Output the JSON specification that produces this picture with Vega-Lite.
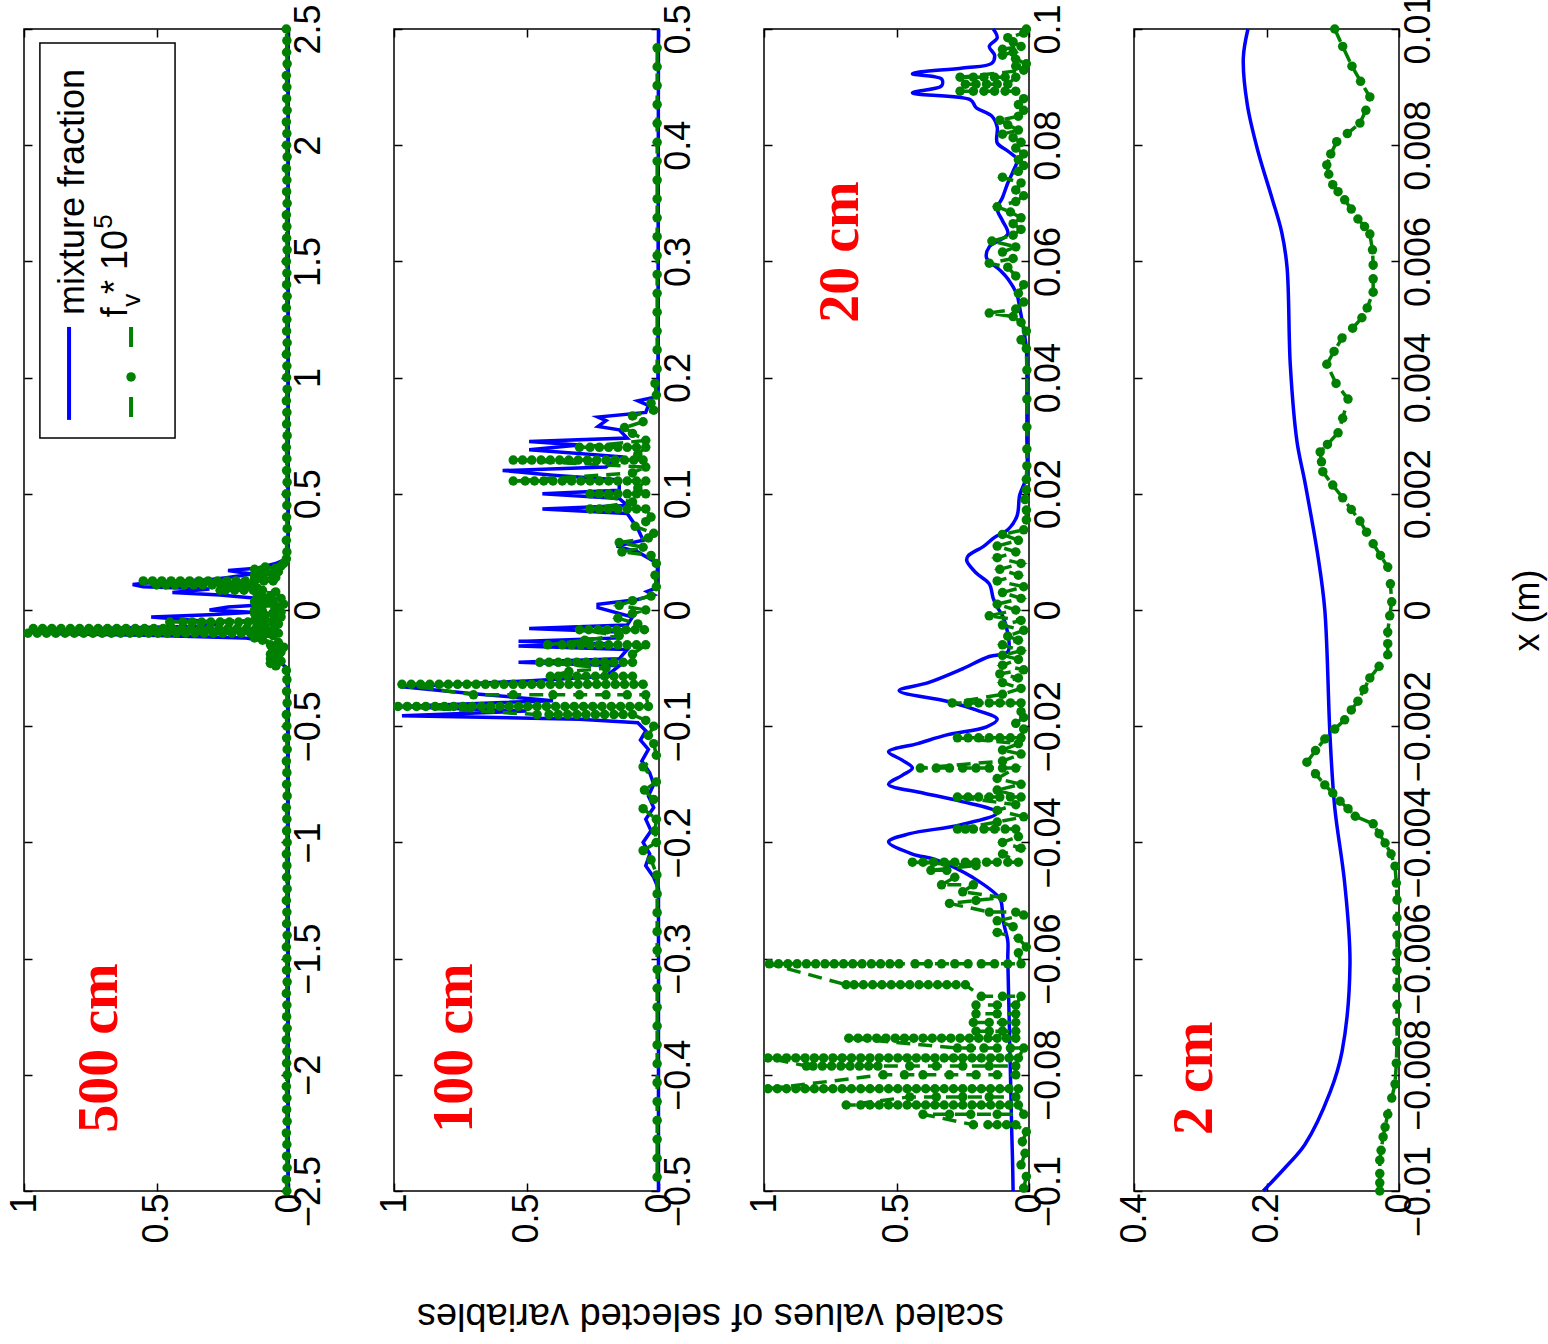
{
"$schema": "https://vega.github.io/schema/vega-lite/v6.json",
"background": "white",
"autosize": {"type": "none"},
"padding": {"left": 24, "top": 29, "right": 1524, "bottom": 1315},
"bounds": "flush",
"spacing": 105,
"title": {"text": "scaled values of selected variables", "orient": "bottom", "angle": 180, "anchor": "middle", "baseline": "bottom", "fontSize": 38, "font": "Liberation Sans", "fontWeight": "normal", "color": "#000000", "offset": 52, "dx": 65},
"config": {
  "view": {"stroke": "#000000", "strokeWidth": 1.5},
  "axis": {"domain": false, "grid": false, "labelFont": "Liberation Sans", "labelFontSize": 36, "labelColor": "#000000", "tickColor": "#000000", "tickWidth": 1.5, "tickSize": -8, "labelPadding": 10, "labelOverlap": false, "labelFlush": false, "labelBound": false, "minExtent": 0, "titleFont": "Liberation Sans", "titleFontSize": 36, "titleFontWeight": "normal", "titleColor": "#000000"}
},
"datasets": {
"p1m": [{"x":-2.5,"v":0.004},{"x":-0.3,"v":0.005},{"x":-0.25,"v":0.006},{"x":-0.23,"v":0.03},{"x":-0.21,"v":0.055},{"x":-0.19,"v":0.05},{"x":-0.17,"v":0.07},{"x":-0.15,"v":0.06},{"x":-0.13,"v":0.1},{"x":-0.12,"v":0.17},{"x":-0.11,"v":0.5},{"x":-0.1,"v":0.96},{"x":-0.09,"v":0.98},{"x":-0.08,"v":0.7},{"x":-0.07,"v":0.35},{"x":-0.06,"v":0.25},{"x":-0.045,"v":0.35},{"x":-0.03,"v":0.52},{"x":-0.02,"v":0.3},{"x":-0.01,"v":0.14},{"x":0,"v":0.3},{"x":0.013,"v":0.23},{"x":0.025,"v":0.05},{"x":0.05,"v":0.12},{"x":0.065,"v":0.26},{"x":0.075,"v":0.44},{"x":0.09,"v":0.3},{"x":0.1,"v":0.55},{"x":0.11,"v":0.59},{"x":0.12,"v":0.5},{"x":0.13,"v":0.3},{"x":0.14,"v":0.23},{"x":0.155,"v":0.14},{"x":0.17,"v":0.23},{"x":0.18,"v":0.12},{"x":0.2,"v":0.05},{"x":0.22,"v":0.01},{"x":0.25,"v":0.004},{"x":2.5,"v":0.004}],
"p1f": [{"x":-2.5,"v":0.008},{"x":-2.45,"v":0.01},{"x":-2.4,"v":0.007},{"x":-2.35,"v":0.009},{"x":-2.3,"v":0.008},{"x":-2.25,"v":0.01},{"x":-2.2,"v":0.007},{"x":-2.15,"v":0.009},{"x":-2.1,"v":0.008},{"x":-2.05,"v":0.01},{"x":-2,"v":0.007},{"x":-1.95,"v":0.009},{"x":-1.9,"v":0.008},{"x":-1.85,"v":0.01},{"x":-1.8,"v":0.007},{"x":-1.75,"v":0.009},{"x":-1.7,"v":0.008},{"x":-1.65,"v":0.01},{"x":-1.6,"v":0.007},{"x":-1.55,"v":0.009},{"x":-1.5,"v":0.008},{"x":-1.45,"v":0.01},{"x":-1.4,"v":0.007},{"x":-1.35,"v":0.009},{"x":-1.3,"v":0.008},{"x":-1.25,"v":0.01},{"x":-1.2,"v":0.007},{"x":-1.15,"v":0.009},{"x":-1.1,"v":0.008},{"x":-1.05,"v":0.01},{"x":-1,"v":0.007},{"x":-0.95,"v":0.009},{"x":-0.9,"v":0.008},{"x":-0.85,"v":0.01},{"x":-0.8,"v":0.007},{"x":-0.75,"v":0.009},{"x":-0.7,"v":0.008},{"x":-0.65,"v":0.01},{"x":-0.6,"v":0.007},{"x":-0.55,"v":0.009},{"x":-0.5,"v":0.008},{"x":-0.45,"v":0.01},{"x":-0.4,"v":0.007},{"x":-0.35,"v":0.009},{"x":-0.3,"v":0.008},
{"x":-0.26,"v":0.01},{"x":-0.24,"v":0.05},{"x":-0.23,"v":0.07},{"x":-0.22,"v":0.03},{"x":-0.21,"v":0.07},{"x":-0.2,"v":0.04},{"x":-0.19,"v":0.07},{"x":-0.18,"v":0.03},{"x":-0.17,"v":0.06},{"x":-0.16,"v":0.02},{"x":-0.15,"v":0.07},{"x":-0.14,"v":0.04},{"x":-0.13,"v":0.1},{"x":-0.12,"v":0.13},{"x":-0.11,"v":0.06},
{"x":-0.1,"v":0.04},{"x":-0.1,"v":0.075},{"x":-0.1,"v":0.11},{"x":-0.1,"v":0.145},{"x":-0.1,"v":0.18},{"x":-0.1,"v":0.215},{"x":-0.1,"v":0.25},{"x":-0.1,"v":0.285},{"x":-0.1,"v":0.32},{"x":-0.1,"v":0.355},{"x":-0.1,"v":0.39},{"x":-0.1,"v":0.425},{"x":-0.1,"v":0.46},{"x":-0.1,"v":0.495},{"x":-0.1,"v":0.53},{"x":-0.1,"v":0.565},{"x":-0.1,"v":0.6},{"x":-0.1,"v":0.635},{"x":-0.1,"v":0.67},{"x":-0.1,"v":0.705},{"x":-0.1,"v":0.74},{"x":-0.1,"v":0.775},{"x":-0.1,"v":0.81},{"x":-0.1,"v":0.845},{"x":-0.1,"v":0.88},{"x":-0.1,"v":0.915},{"x":-0.1,"v":0.95},{"x":-0.1,"v":0.985},
{"x":-0.08,"v":0.965},{"x":-0.08,"v":0.93},{"x":-0.08,"v":0.895},{"x":-0.08,"v":0.86},{"x":-0.08,"v":0.825},{"x":-0.08,"v":0.79},{"x":-0.08,"v":0.755},{"x":-0.08,"v":0.72},{"x":-0.08,"v":0.685},{"x":-0.08,"v":0.65},{"x":-0.08,"v":0.615},{"x":-0.08,"v":0.58},{"x":-0.08,"v":0.545},{"x":-0.08,"v":0.51},{"x":-0.08,"v":0.475},{"x":-0.08,"v":0.44},{"x":-0.08,"v":0.405},{"x":-0.08,"v":0.37},{"x":-0.08,"v":0.335},{"x":-0.08,"v":0.3},{"x":-0.08,"v":0.265},{"x":-0.08,"v":0.23},{"x":-0.08,"v":0.195},{"x":-0.08,"v":0.16},{"x":-0.08,"v":0.125},{"x":-0.08,"v":0.09},{"x":-0.08,"v":0.055},
{"x":-0.066,"v":0.1},{"x":-0.06,"v":0.04},
{"x":-0.052,"v":0.05},{"x":-0.052,"v":0.085},{"x":-0.052,"v":0.12},{"x":-0.052,"v":0.155},{"x":-0.052,"v":0.19},{"x":-0.052,"v":0.225},{"x":-0.052,"v":0.26},{"x":-0.052,"v":0.295},{"x":-0.052,"v":0.33},{"x":-0.052,"v":0.365},{"x":-0.052,"v":0.4},{"x":-0.052,"v":0.45},
{"x":-0.045,"v":0.13},{"x":-0.04,"v":0.05},{"x":-0.035,"v":0.12},{"x":-0.03,"v":0.03},{"x":-0.025,"v":0.11},{"x":-0.02,"v":0.06},{"x":-0.015,"v":0.13},{"x":-0.01,"v":0.03},{"x":-0.005,"v":0.1},{"x":0,"v":0.13},{"x":0.005,"v":0.04},{"x":0.01,"v":0.12},{"x":0.015,"v":0.05},{"x":0.02,"v":0.1},{"x":0.025,"v":0.02},{"x":0.03,"v":0.09},{"x":0.035,"v":0.13},{"x":0.04,"v":0.06},{"x":0.045,"v":0.1},{"x":0.05,"v":0.03},{"x":0.055,"v":0.12},{"x":0.06,"v":0.07},{"x":0.07,"v":0.12},{"x":0.078,"v":0.05},
{"x":0.085,"v":0.1},{"x":0.085,"v":0.135},{"x":0.085,"v":0.17},{"x":0.085,"v":0.205},{"x":0.085,"v":0.24},{"x":0.085,"v":0.26},{"x":0.095,"v":0.12},
{"x":0.108,"v":0.15},{"x":0.108,"v":0.185},{"x":0.108,"v":0.22},{"x":0.108,"v":0.255},{"x":0.108,"v":0.29},{"x":0.108,"v":0.325},{"x":0.108,"v":0.36},{"x":0.108,"v":0.395},{"x":0.108,"v":0.43},{"x":0.108,"v":0.465},{"x":0.108,"v":0.5},
{"x":0.125,"v":0.55},{"x":0.125,"v":0.515},{"x":0.125,"v":0.48},{"x":0.125,"v":0.445},{"x":0.125,"v":0.41},{"x":0.125,"v":0.375},{"x":0.125,"v":0.34},{"x":0.125,"v":0.305},{"x":0.125,"v":0.27},{"x":0.125,"v":0.235},{"x":0.125,"v":0.2},{"x":0.125,"v":0.165},{"x":0.125,"v":0.13},{"x":0.125,"v":0.095},{"x":0.125,"v":0.06},
{"x":0.135,"v":0.13},{"x":0.14,"v":0.05},{"x":0.145,"v":0.1},{"x":0.15,"v":0.13},{"x":0.155,"v":0.06},{"x":0.16,"v":0.12},{"x":0.165,"v":0.04},{"x":0.17,"v":0.11},{"x":0.175,"v":0.13},{"x":0.18,"v":0.05},{"x":0.185,"v":0.09},{"x":0.19,"v":0.03},{"x":0.2,"v":0.02},{"x":0.22,"v":0.01},
{"x":0.25,"v":0.008},{"x":0.3,"v":0.01},{"x":0.35,"v":0.007},{"x":0.4,"v":0.009},{"x":0.45,"v":0.008},{"x":0.5,"v":0.01},{"x":0.55,"v":0.007},{"x":0.6,"v":0.009},{"x":0.65,"v":0.008},{"x":0.7,"v":0.01},{"x":0.75,"v":0.007},{"x":0.8,"v":0.009},{"x":0.85,"v":0.008},{"x":0.9,"v":0.01},{"x":0.95,"v":0.007},{"x":1,"v":0.009},{"x":1.05,"v":0.008},{"x":1.1,"v":0.01},{"x":1.15,"v":0.007},{"x":1.2,"v":0.009},{"x":1.25,"v":0.008},{"x":1.3,"v":0.01},{"x":1.35,"v":0.007},{"x":1.4,"v":0.009},{"x":1.45,"v":0.008},{"x":1.5,"v":0.01},{"x":1.55,"v":0.007},{"x":1.6,"v":0.009},{"x":1.65,"v":0.008},{"x":1.7,"v":0.01},{"x":1.75,"v":0.007},{"x":1.8,"v":0.009},{"x":1.85,"v":0.008},{"x":1.9,"v":0.01},{"x":1.95,"v":0.007},{"x":2,"v":0.009},{"x":2.05,"v":0.008},{"x":2.1,"v":0.01},{"x":2.15,"v":0.007},{"x":2.2,"v":0.009},{"x":2.25,"v":0.008},{"x":2.3,"v":0.01},{"x":2.35,"v":0.007},{"x":2.4,"v":0.009},{"x":2.45,"v":0.008},{"x":2.5,"v":0.01}],
"p2m": [{"x":-0.5,"v":0.002},{"x":-0.24,"v":0.002},{"x":-0.23,"v":0.02},{"x":-0.22,"v":0.05},{"x":-0.21,"v":0.035},{"x":-0.2,"v":0.06},{"x":-0.19,"v":0.03},{"x":-0.18,"v":0.05},{"x":-0.17,"v":0.02},{"x":-0.16,"v":0.04},{"x":-0.15,"v":0.02},{"x":-0.14,"v":0.035},{"x":-0.13,"v":0.065},{"x":-0.12,"v":0.04},{"x":-0.112,"v":0.07},{"x":-0.104,"v":0.05},{"x":-0.097,"v":0.08},{"x":-0.094,"v":0.3},{"x":-0.091,"v":0.97},{"x":-0.087,"v":0.5},{"x":-0.083,"v":0.98},{"x":-0.078,"v":0.4},{"x":-0.072,"v":0.7},{"x":-0.066,"v":0.97},{"x":-0.061,"v":0.5},{"x":-0.057,"v":0.2},{"x":-0.048,"v":0.15},{"x":-0.045,"v":0.53},{"x":-0.042,"v":0.15},{"x":-0.034,"v":0.12},{"x":-0.031,"v":0.53},{"x":-0.029,"v":0.2},{"x":-0.027,"v":0.53},{"x":-0.024,"v":0.15},{"x":-0.019,"v":0.15},{"x":-0.016,"v":0.49},{"x":-0.013,"v":0.12},{"x":-0.006,"v":0.1},{"x":0.002,"v":0.23},{"x":0.005,"v":0.23},{"x":0.009,"v":0.08},{"x":0.013,"v":0.02},{"x":0.016,"v":0.045},{"x":0.019,"v":0.01},{"x":0.04,"v":0.005},{"x":0.05,"v":0.08},{"x":0.055,"v":0.16},{"x":0.06,"v":0.06},{"x":0.07,"v":0.08},{"x":0.083,"v":0.12},{"x":0.087,"v":0.44},{"x":0.09,"v":0.12},{"x":0.096,"v":0.15},{"x":0.1,"v":0.44},{"x":0.103,"v":0.15},{"x":0.112,"v":0.15},{"x":0.116,"v":0.4},{"x":0.12,"v":0.59},{"x":0.123,"v":0.2},{"x":0.132,"v":0.15},{"x":0.138,"v":0.49},{"x":0.142,"v":0.3},{"x":0.145,"v":0.49},{"x":0.148,"v":0.12},{"x":0.155,"v":0.15},{"x":0.158,"v":0.23},{"x":0.163,"v":0.2},{"x":0.166,"v":0.23},{"x":0.17,"v":0.05},{"x":0.176,"v":0.04},{"x":0.18,"v":0.08},{"x":0.183,"v":0.02},{"x":0.19,"v":0.004},{"x":0.5,"v":0.002}],
"p2f": [{"x":-0.488,"v":0.007},{"x":-0.4718,"v":0.007},{"x":-0.4555,"v":0.007},{"x":-0.4393,"v":0.007},{"x":-0.423,"v":0.007},{"x":-0.4068,"v":0.007},{"x":-0.3905,"v":0.007},{"x":-0.3743,"v":0.007},{"x":-0.358,"v":0.007},{"x":-0.3418,"v":0.007},{"x":-0.3255,"v":0.007},{"x":-0.3093,"v":0.007},{"x":-0.293,"v":0.007},{"x":-0.2768,"v":0.007},{"x":-0.2605,"v":0.007},{"x":-0.2443,"v":0.007},
{"x":-0.228,"v":0.008},{"x":-0.215,"v":0.03},{"x":-0.207,"v":0.06},{"x":-0.2,"v":0.01},{"x":-0.19,"v":0.015},{"x":-0.18,"v":0.01},{"x":-0.171,"v":0.06},{"x":-0.163,"v":0.02},{"x":-0.155,"v":0.055},{"x":-0.148,"v":0.01},{"x":-0.135,"v":0.06},{"x":-0.125,"v":0.01},{"x":-0.115,"v":0.02},{"x":-0.108,"v":0.04},{"x":-0.1,"v":0.02},{"x":-0.095,"v":0.05},
{"x":-0.09,"v":0.1},{"x":-0.09,"v":0.135},{"x":-0.09,"v":0.17},{"x":-0.09,"v":0.205},{"x":-0.09,"v":0.24},{"x":-0.09,"v":0.275},{"x":-0.09,"v":0.31},{"x":-0.09,"v":0.345},{"x":-0.09,"v":0.38},{"x":-0.09,"v":0.415},{"x":-0.09,"v":0.46},
{"x":-0.083,"v":0.985},{"x":-0.083,"v":0.95},{"x":-0.083,"v":0.915},{"x":-0.083,"v":0.88},{"x":-0.083,"v":0.845},{"x":-0.083,"v":0.81},{"x":-0.083,"v":0.775},{"x":-0.083,"v":0.74},{"x":-0.083,"v":0.705},{"x":-0.083,"v":0.67},{"x":-0.083,"v":0.635},{"x":-0.083,"v":0.6},{"x":-0.083,"v":0.565},{"x":-0.083,"v":0.53},{"x":-0.083,"v":0.495},{"x":-0.083,"v":0.46},{"x":-0.083,"v":0.425},{"x":-0.083,"v":0.39},{"x":-0.083,"v":0.355},{"x":-0.083,"v":0.32},{"x":-0.083,"v":0.285},{"x":-0.083,"v":0.25},{"x":-0.083,"v":0.215},{"x":-0.083,"v":0.18},{"x":-0.083,"v":0.145},{"x":-0.083,"v":0.11},{"x":-0.083,"v":0.075},{"x":-0.083,"v":0.04},
{"x":-0.073,"v":0.05},{"x":-0.073,"v":0.12},{"x":-0.073,"v":0.2},{"x":-0.073,"v":0.3},{"x":-0.073,"v":0.4},{"x":-0.073,"v":0.55},{"x":-0.073,"v":0.7},
{"x":-0.064,"v":0.97},{"x":-0.064,"v":0.935},{"x":-0.064,"v":0.9},{"x":-0.064,"v":0.865},{"x":-0.064,"v":0.83},{"x":-0.064,"v":0.795},{"x":-0.064,"v":0.76},{"x":-0.064,"v":0.725},{"x":-0.064,"v":0.69},{"x":-0.064,"v":0.655},{"x":-0.064,"v":0.62},{"x":-0.064,"v":0.585},{"x":-0.064,"v":0.55},{"x":-0.064,"v":0.515},{"x":-0.064,"v":0.48},{"x":-0.064,"v":0.445},{"x":-0.064,"v":0.41},{"x":-0.064,"v":0.375},{"x":-0.064,"v":0.34},{"x":-0.064,"v":0.305},{"x":-0.064,"v":0.27},{"x":-0.064,"v":0.235},{"x":-0.064,"v":0.2},{"x":-0.064,"v":0.165},{"x":-0.064,"v":0.13},{"x":-0.064,"v":0.095},{"x":-0.064,"v":0.06},
{"x":-0.057,"v":0.1},{"x":-0.057,"v":0.135},{"x":-0.057,"v":0.17},{"x":-0.057,"v":0.205},{"x":-0.057,"v":0.24},{"x":-0.057,"v":0.275},{"x":-0.057,"v":0.31},{"x":-0.057,"v":0.345},{"x":-0.057,"v":0.38},{"x":-0.057,"v":0.41},{"x":-0.053,"v":0.34},{"x":-0.05,"v":0.2},
{"x":-0.045,"v":0.45},{"x":-0.045,"v":0.415},{"x":-0.045,"v":0.38},{"x":-0.045,"v":0.345},{"x":-0.045,"v":0.31},{"x":-0.045,"v":0.275},{"x":-0.045,"v":0.24},{"x":-0.045,"v":0.205},{"x":-0.045,"v":0.17},{"x":-0.045,"v":0.135},{"x":-0.045,"v":0.1},{"x":-0.038,"v":0.1},
{"x":-0.03,"v":0.05},{"x":-0.03,"v":0.085},{"x":-0.03,"v":0.12},{"x":-0.03,"v":0.155},{"x":-0.03,"v":0.19},{"x":-0.03,"v":0.225},{"x":-0.03,"v":0.26},{"x":-0.03,"v":0.295},{"x":-0.03,"v":0.33},{"x":-0.03,"v":0.365},{"x":-0.03,"v":0.42},{"x":-0.026,"v":0.28},{"x":-0.022,"v":0.15},
{"x":-0.017,"v":0.3},{"x":-0.017,"v":0.265},{"x":-0.017,"v":0.23},{"x":-0.017,"v":0.195},{"x":-0.017,"v":0.16},{"x":-0.017,"v":0.125},{"x":-0.017,"v":0.09},{"x":-0.017,"v":0.055},
{"x":-0.012,"v":0.08},{"x":-0.007,"v":0.155},{"x":-0.003,"v":0.1},{"x":0,"v":0.05},{"x":0.004,"v":0.15},{"x":0.008,"v":0.1},{"x":0.012,"v":0.03},{"x":0.02,"v":0.01},{"x":0.03,"v":0.015},{"x":0.04,"v":0.01},{"x":0.047,"v":0.03},{"x":0.05,"v":0.14},{"x":0.054,"v":0.06},{"x":0.058,"v":0.15},{"x":0.062,"v":0.04},{"x":0.066,"v":0.02},{"x":0.072,"v":0.09},{"x":0.076,"v":0.05},{"x":0.08,"v":0.03},
{"x":0.087,"v":0.05},{"x":0.087,"v":0.085},{"x":0.087,"v":0.12},{"x":0.087,"v":0.155},{"x":0.087,"v":0.19},{"x":0.087,"v":0.225},{"x":0.087,"v":0.26},{"x":0.093,"v":0.1},
{"x":0.1,"v":0.26},{"x":0.1,"v":0.225},{"x":0.1,"v":0.19},{"x":0.1,"v":0.155},{"x":0.1,"v":0.12},{"x":0.1,"v":0.085},{"x":0.1,"v":0.05},{"x":0.105,"v":0.08},
{"x":0.111,"v":0.05},{"x":0.111,"v":0.085},{"x":0.111,"v":0.12},{"x":0.111,"v":0.155},{"x":0.111,"v":0.19},{"x":0.111,"v":0.225},{"x":0.111,"v":0.26},{"x":0.111,"v":0.295},{"x":0.111,"v":0.33},{"x":0.111,"v":0.365},{"x":0.111,"v":0.4},{"x":0.111,"v":0.435},{"x":0.111,"v":0.47},{"x":0.111,"v":0.505},{"x":0.111,"v":0.55},{"x":0.118,"v":0.1},{"x":0.123,"v":0.05},
{"x":0.129,"v":0.55},{"x":0.129,"v":0.515},{"x":0.129,"v":0.48},{"x":0.129,"v":0.445},{"x":0.129,"v":0.41},{"x":0.129,"v":0.375},{"x":0.129,"v":0.34},{"x":0.129,"v":0.305},{"x":0.129,"v":0.27},{"x":0.129,"v":0.235},{"x":0.129,"v":0.2},{"x":0.129,"v":0.165},{"x":0.129,"v":0.13},{"x":0.129,"v":0.095},{"x":0.129,"v":0.06},{"x":0.134,"v":0.08},
{"x":0.14,"v":0.05},{"x":0.14,"v":0.085},{"x":0.14,"v":0.12},{"x":0.14,"v":0.155},{"x":0.14,"v":0.19},{"x":0.14,"v":0.225},{"x":0.14,"v":0.26},{"x":0.14,"v":0.3},
{"x":0.146,"v":0.05},{"x":0.152,"v":0.1},{"x":0.157,"v":0.13},{"x":0.162,"v":0.06},{"x":0.167,"v":0.1},{"x":0.172,"v":0.02},{"x":0.178,"v":0.03},{"x":0.185,"v":0.01},{"x":0.195,"v":0.015},
{"x":0.2075,"v":0.007},{"x":0.2238,"v":0.007},{"x":0.24,"v":0.007},{"x":0.2563,"v":0.007},{"x":0.2725,"v":0.007},{"x":0.2888,"v":0.007},{"x":0.305,"v":0.007},{"x":0.3213,"v":0.007},{"x":0.3375,"v":0.007},{"x":0.3538,"v":0.007},{"x":0.37,"v":0.007},{"x":0.3863,"v":0.007},{"x":0.4025,"v":0.007},{"x":0.4188,"v":0.007},{"x":0.435,"v":0.007},{"x":0.4513,"v":0.007},{"x":0.4675,"v":0.007},{"x":0.4838,"v":0.007}],
"p3m": [{"x":-0.1,"v":0.06},{"x":-0.095,"v":0.062},{"x":-0.09,"v":0.065},{"x":-0.08,"v":0.07},{"x":-0.07,"v":0.075},{"x":-0.06,"v":0.08},{"x":-0.057,"v":0.08},{"x":-0.054,"v":0.095},{"x":-0.052,"v":0.1},{"x":-0.0497,"v":0.11},{"x":-0.0461,"v":0.21},{"x":-0.043,"v":0.35},{"x":-0.042,"v":0.44},{"x":-0.0399,"v":0.53},{"x":-0.0385,"v":0.45},{"x":-0.037,"v":0.26},{"x":-0.0349,"v":0.12},{"x":-0.0329,"v":0.26},{"x":-0.0315,"v":0.4},{"x":-0.03,"v":0.53},{"x":-0.0285,"v":0.48},{"x":-0.0272,"v":0.44},{"x":-0.0258,"v":0.48},{"x":-0.0244,"v":0.53},{"x":-0.023,"v":0.42},{"x":-0.0215,"v":0.31},{"x":-0.0201,"v":0.16},{"x":-0.0188,"v":0.12},{"x":-0.0172,"v":0.2},{"x":-0.0157,"v":0.31},{"x":-0.0139,"v":0.49},{"x":-0.0125,"v":0.38},{"x":-0.0103,"v":0.26},{"x":-0.008,"v":0.15},{"x":-0.0072,"v":0.08},{"x":-0.004,"v":0.08},{"x":-0.001,"v":0.1},{"x":0.0005,"v":0.12},{"x":0.002,"v":0.135},{"x":0.0045,"v":0.15},{"x":0.0064,"v":0.2},{"x":0.0085,"v":0.235},{"x":0.0093,"v":0.23},{"x":0.011,"v":0.17},{"x":0.0125,"v":0.13},{"x":0.0138,"v":0.08},{"x":0.0162,"v":0.045},{"x":0.0198,"v":0.035},{"x":0.0229,"v":0.01},{"x":0.03,"v":0.008},{"x":0.0361,"v":0.008},{"x":0.045,"v":0.01},{"x":0.0482,"v":0.02},{"x":0.052,"v":0.035},{"x":0.0542,"v":0.045},{"x":0.057,"v":0.08},{"x":0.0585,"v":0.11},{"x":0.0606,"v":0.16},{"x":0.0625,"v":0.15},{"x":0.0647,"v":0.08},{"x":0.067,"v":0.1},{"x":0.069,"v":0.12},{"x":0.071,"v":0.1},{"x":0.0735,"v":0.08},{"x":0.0755,"v":0.06},{"x":0.0775,"v":0.045},{"x":0.079,"v":0.08},{"x":0.0804,"v":0.12},{"x":0.0831,"v":0.12},{"x":0.085,"v":0.14},{"x":0.0865,"v":0.2},{"x":0.0878,"v":0.22},{"x":0.089,"v":0.44},{"x":0.0902,"v":0.33},{"x":0.0914,"v":0.33},{"x":0.0923,"v":0.44},{"x":0.0933,"v":0.25},{"x":0.0941,"v":0.14},{"x":0.0955,"v":0.13},{"x":0.097,"v":0.15},{"x":0.0985,"v":0.12},{"x":0.1,"v":0.135}],
"p3f": [{"x":-0.0995,"v":0.02},{"x":-0.0975,"v":0.01},{"x":-0.0955,"v":0.03},{"x":-0.0935,"v":0.015},{"x":-0.0915,"v":0.025},{"x":-0.0898,"v":0.01},
{"x":-0.0886,"v":0.05},{"x":-0.0886,"v":0.085},{"x":-0.0886,"v":0.12},{"x":-0.0886,"v":0.155},{"x":-0.0886,"v":0.21},
{"x":-0.0868,"v":0.4},{"x":-0.0868,"v":0.3},{"x":-0.0868,"v":0.22},{"x":-0.0868,"v":0.12},{"x":-0.0868,"v":0.02},
{"x":-0.0852,"v":0.04},{"x":-0.0852,"v":0.075},{"x":-0.0852,"v":0.11},{"x":-0.0852,"v":0.145},{"x":-0.0852,"v":0.18},{"x":-0.0852,"v":0.215},{"x":-0.0852,"v":0.25},{"x":-0.0852,"v":0.285},{"x":-0.0852,"v":0.32},{"x":-0.0852,"v":0.355},{"x":-0.0852,"v":0.39},{"x":-0.0852,"v":0.425},{"x":-0.0852,"v":0.46},{"x":-0.0852,"v":0.495},{"x":-0.0852,"v":0.53},{"x":-0.0852,"v":0.565},{"x":-0.0852,"v":0.6},{"x":-0.0852,"v":0.635},{"x":-0.0852,"v":0.69},
{"x":-0.0838,"v":0.45},{"x":-0.0838,"v":0.35},{"x":-0.0838,"v":0.25},{"x":-0.0838,"v":0.15},{"x":-0.0838,"v":0.05},
{"x":-0.0824,"v":0.04},{"x":-0.0824,"v":0.075},{"x":-0.0824,"v":0.11},{"x":-0.0824,"v":0.145},{"x":-0.0824,"v":0.18},{"x":-0.0824,"v":0.215},{"x":-0.0824,"v":0.25},{"x":-0.0824,"v":0.285},{"x":-0.0824,"v":0.32},{"x":-0.0824,"v":0.355},{"x":-0.0824,"v":0.39},{"x":-0.0824,"v":0.425},{"x":-0.0824,"v":0.46},{"x":-0.0824,"v":0.495},{"x":-0.0824,"v":0.53},{"x":-0.0824,"v":0.565},{"x":-0.0824,"v":0.6},{"x":-0.0824,"v":0.635},{"x":-0.0824,"v":0.67},{"x":-0.0824,"v":0.705},{"x":-0.0824,"v":0.74},{"x":-0.0824,"v":0.775},{"x":-0.0824,"v":0.81},{"x":-0.0824,"v":0.845},{"x":-0.0824,"v":0.88},{"x":-0.0824,"v":0.915},{"x":-0.0824,"v":0.95},{"x":-0.0824,"v":0.985},
{"x":-0.08,"v":0.55},{"x":-0.08,"v":0.47},{"x":-0.08,"v":0.4},{"x":-0.08,"v":0.3},{"x":-0.08,"v":0.2},{"x":-0.08,"v":0.12},{"x":-0.08,"v":0.05},
{"x":-0.0785,"v":0.05},{"x":-0.0785,"v":0.15},{"x":-0.0785,"v":0.25},{"x":-0.0785,"v":0.35},{"x":-0.0785,"v":0.45},{"x":-0.0785,"v":0.57},{"x":-0.0785,"v":0.605},{"x":-0.0785,"v":0.64},{"x":-0.0785,"v":0.675},{"x":-0.0785,"v":0.71},{"x":-0.0785,"v":0.745},{"x":-0.0785,"v":0.78},{"x":-0.0785,"v":0.815},{"x":-0.0785,"v":0.84},
{"x":-0.0771,"v":0.985},{"x":-0.0771,"v":0.95},{"x":-0.0771,"v":0.915},{"x":-0.0771,"v":0.88},{"x":-0.0771,"v":0.845},{"x":-0.0771,"v":0.81},{"x":-0.0771,"v":0.775},{"x":-0.0771,"v":0.74},{"x":-0.0771,"v":0.705},{"x":-0.0771,"v":0.67},{"x":-0.0771,"v":0.635},{"x":-0.0771,"v":0.6},{"x":-0.0771,"v":0.565},{"x":-0.0771,"v":0.53},{"x":-0.0771,"v":0.495},{"x":-0.0771,"v":0.46},{"x":-0.0771,"v":0.425},{"x":-0.0771,"v":0.39},{"x":-0.0771,"v":0.355},{"x":-0.0771,"v":0.32},{"x":-0.0771,"v":0.285},{"x":-0.0771,"v":0.25},{"x":-0.0771,"v":0.215},{"x":-0.0771,"v":0.18},{"x":-0.0771,"v":0.145},{"x":-0.0771,"v":0.11},{"x":-0.0771,"v":0.075},{"x":-0.0771,"v":0.04},
{"x":-0.0754,"v":0.02},{"x":-0.0754,"v":0.07},{"x":-0.0754,"v":0.12},{"x":-0.0754,"v":0.17},{"x":-0.0754,"v":0.22},{"x":-0.0754,"v":0.27},
{"x":-0.0737,"v":0.68},{"x":-0.0737,"v":0.645},{"x":-0.0737,"v":0.61},{"x":-0.0737,"v":0.575},{"x":-0.0737,"v":0.54},{"x":-0.0737,"v":0.505},{"x":-0.0737,"v":0.47},{"x":-0.0737,"v":0.435},{"x":-0.0737,"v":0.4},{"x":-0.0737,"v":0.365},{"x":-0.0737,"v":0.33},{"x":-0.0737,"v":0.295},{"x":-0.0737,"v":0.26},{"x":-0.0737,"v":0.225},{"x":-0.0737,"v":0.19},{"x":-0.0737,"v":0.155},{"x":-0.0737,"v":0.12},{"x":-0.0737,"v":0.085},{"x":-0.0737,"v":0.05},
{"x":-0.0725,"v":0.05},{"x":-0.0725,"v":0.1},{"x":-0.0725,"v":0.15},{"x":-0.0725,"v":0.2},{"x":-0.071,"v":0.21},{"x":-0.071,"v":0.15},{"x":-0.071,"v":0.1},{"x":-0.071,"v":0.05},{"x":-0.0695,"v":0.05},{"x":-0.0695,"v":0.12},{"x":-0.0695,"v":0.2},{"x":-0.068,"v":0.2},{"x":-0.068,"v":0.12},{"x":-0.068,"v":0.05},{"x":-0.0665,"v":0.03},{"x":-0.0665,"v":0.1},{"x":-0.0665,"v":0.18},
{"x":-0.0645,"v":0.24},{"x":-0.0645,"v":0.275},{"x":-0.0645,"v":0.31},{"x":-0.0645,"v":0.345},{"x":-0.0645,"v":0.38},{"x":-0.0645,"v":0.415},{"x":-0.0645,"v":0.45},{"x":-0.0645,"v":0.485},{"x":-0.0645,"v":0.52},{"x":-0.0645,"v":0.555},{"x":-0.0645,"v":0.59},{"x":-0.0645,"v":0.625},{"x":-0.0645,"v":0.66},{"x":-0.0645,"v":0.69},
{"x":-0.0609,"v":0.98},{"x":-0.0609,"v":0.945},{"x":-0.0609,"v":0.91},{"x":-0.0609,"v":0.875},{"x":-0.0609,"v":0.84},{"x":-0.0609,"v":0.805},{"x":-0.0609,"v":0.77},{"x":-0.0609,"v":0.735},{"x":-0.0609,"v":0.7},{"x":-0.0609,"v":0.665},{"x":-0.0609,"v":0.63},{"x":-0.0609,"v":0.595},{"x":-0.0609,"v":0.56},{"x":-0.0609,"v":0.525},{"x":-0.0609,"v":0.49},{"x":-0.0609,"v":0.43},{"x":-0.0609,"v":0.38},{"x":-0.0609,"v":0.33},{"x":-0.0609,"v":0.28},{"x":-0.0609,"v":0.23},{"x":-0.0609,"v":0.18},{"x":-0.0609,"v":0.13},{"x":-0.0609,"v":0.08},{"x":-0.0609,"v":0.03},
{"x":-0.059,"v":0.04},{"x":-0.058,"v":0.01},{"x":-0.0565,"v":0.04},{"x":-0.0555,"v":0.12},{"x":-0.0545,"v":0.06},{"x":-0.0535,"v":0.12},{"x":-0.0525,"v":0.02},
{"x":-0.052,"v":0.05},{"x":-0.052,"v":0.15},{"x":-0.0505,"v":0.3},{"x":-0.05,"v":0.2},{"x":-0.0495,"v":0.1},{"x":-0.0485,"v":0.25},{"x":-0.0473,"v":0.21},{"x":-0.0473,"v":0.33},{"x":-0.046,"v":0.28},{"x":-0.0448,"v":0.31},{"x":-0.0448,"v":0.37},{"x":-0.044,"v":0.2},
{"x":-0.0434,"v":0.44},{"x":-0.0434,"v":0.4},{"x":-0.0434,"v":0.36},{"x":-0.0434,"v":0.32},{"x":-0.0434,"v":0.28},{"x":-0.0434,"v":0.24},{"x":-0.0434,"v":0.2},{"x":-0.0434,"v":0.16},{"x":-0.0434,"v":0.12},{"x":-0.0434,"v":0.08},{"x":-0.0434,"v":0.04},
{"x":-0.042,"v":0.1},{"x":-0.041,"v":0.03},{"x":-0.04,"v":0.1},{"x":-0.039,"v":0.04},
{"x":-0.0377,"v":0.05},{"x":-0.0377,"v":0.09},{"x":-0.0377,"v":0.13},{"x":-0.0377,"v":0.17},{"x":-0.0377,"v":0.21},{"x":-0.0377,"v":0.24},{"x":-0.0377,"v":0.27},
{"x":-0.0365,"v":0.12},{"x":-0.0356,"v":0.02},{"x":-0.0345,"v":0.12},{"x":-0.0335,"v":0.05},
{"x":-0.0322,"v":0.27},{"x":-0.0322,"v":0.23},{"x":-0.0322,"v":0.19},{"x":-0.0322,"v":0.15},{"x":-0.0322,"v":0.11},{"x":-0.0322,"v":0.07},{"x":-0.0322,"v":0.03},
{"x":-0.031,"v":0.12},{"x":-0.03,"v":0.03},{"x":-0.029,"v":0.12},
{"x":-0.0272,"v":0.05},{"x":-0.0272,"v":0.1},{"x":-0.0272,"v":0.15},{"x":-0.0272,"v":0.2},{"x":-0.0272,"v":0.25},{"x":-0.0272,"v":0.3},{"x":-0.0272,"v":0.35},{"x":-0.0272,"v":0.41},
{"x":-0.026,"v":0.1},{"x":-0.0248,"v":0.03},{"x":-0.0241,"v":0.1},{"x":-0.023,"v":0.04},
{"x":-0.022,"v":0.27},{"x":-0.022,"v":0.23},{"x":-0.022,"v":0.19},{"x":-0.022,"v":0.15},{"x":-0.022,"v":0.11},{"x":-0.022,"v":0.07},{"x":-0.022,"v":0.03},
{"x":-0.0205,"v":0.02},{"x":-0.0195,"v":0.05},{"x":-0.0185,"v":0.02},{"x":-0.0175,"v":0.03},
{"x":-0.016,"v":0.03},{"x":-0.016,"v":0.07},{"x":-0.016,"v":0.11},{"x":-0.016,"v":0.15},{"x":-0.016,"v":0.19},{"x":-0.016,"v":0.23},{"x":-0.016,"v":0.29},
{"x":-0.0145,"v":0.1},{"x":-0.0135,"v":0.03},{"x":-0.0125,"v":0.1},{"x":-0.0117,"v":0.04},{"x":-0.011,"v":0.11},{"x":-0.0103,"v":0.02},{"x":-0.0095,"v":0.1},{"x":-0.0085,"v":0.04},{"x":-0.0078,"v":0.1},{"x":-0.007,"v":0.03},{"x":-0.006,"v":0.1},{"x":-0.0052,"v":0.04},{"x":-0.0045,"v":0.08},{"x":-0.0035,"v":0.02},{"x":-0.0026,"v":0.1},{"x":-0.0018,"v":0.03},{"x":-0.001,"v":0.15},{"x":0,"v":0.05},{"x":0.001,"v":0.12},{"x":0.002,"v":0.03},{"x":0.003,"v":0.1},{"x":0.004,"v":0.02},{"x":0.005,"v":0.12},{"x":0.006,"v":0.04},{"x":0.007,"v":0.11},{"x":0.008,"v":0.03},{"x":0.009,"v":0.12},{"x":0.01,"v":0.05},{"x":0.011,"v":0.12},{"x":0.012,"v":0.04},{"x":0.013,"v":0.1},{"x":0.0138,"v":0.02},{"x":0.0155,"v":0.01},{"x":0.0172,"v":0.01},{"x":0.019,"v":0.015},{"x":0.0207,"v":0.01},{"x":0.0225,"v":0.01},
{"x":0.0248,"v":0.008},{"x":0.0277,"v":0.008},{"x":0.0315,"v":0.008},{"x":0.0363,"v":0.008},{"x":0.0413,"v":0.008},
{"x":0.045,"v":0.01},{"x":0.0465,"v":0.03},{"x":0.048,"v":0.01},{"x":0.0495,"v":0.03},{"x":0.0505,"v":0.06},{"x":0.0511,"v":0.15},{"x":0.0518,"v":0.05},{"x":0.053,"v":0.02},{"x":0.0545,"v":0.04},{"x":0.056,"v":0.02},{"x":0.0575,"v":0.05},{"x":0.059,"v":0.08},{"x":0.0597,"v":0.15},{"x":0.0605,"v":0.06},{"x":0.0616,"v":0.1},{"x":0.0625,"v":0.05},{"x":0.0635,"v":0.14},{"x":0.0645,"v":0.06},{"x":0.0655,"v":0.03},{"x":0.0665,"v":0.06},{"x":0.0675,"v":0.03},{"x":0.0685,"v":0.07},{"x":0.0694,"v":0.12},{"x":0.0703,"v":0.05},{"x":0.0713,"v":0.02},{"x":0.0723,"v":0.05},{"x":0.0735,"v":0.03},{"x":0.0745,"v":0.1},{"x":0.0755,"v":0.04},{"x":0.0765,"v":0.02},{"x":0.0775,"v":0.04},{"x":0.0785,"v":0.02},{"x":0.0795,"v":0.05},{"x":0.0805,"v":0.03},{"x":0.0813,"v":0.06},{"x":0.0819,"v":0.1},{"x":0.0826,"v":0.04},{"x":0.0835,"v":0.08},{"x":0.0843,"v":0.11},{"x":0.085,"v":0.04},{"x":0.086,"v":0.02},{"x":0.087,"v":0.04},{"x":0.088,"v":0.02},
{"x":0.0893,"v":0.05},{"x":0.0893,"v":0.09},{"x":0.0893,"v":0.13},{"x":0.0893,"v":0.17},{"x":0.0893,"v":0.21},{"x":0.0893,"v":0.26},{"x":0.0905,"v":0.24},{"x":0.0905,"v":0.2},{"x":0.0905,"v":0.16},{"x":0.0905,"v":0.12},{"x":0.0905,"v":0.08},{"x":0.0917,"v":0.05},{"x":0.0917,"v":0.09},{"x":0.0917,"v":0.13},{"x":0.0917,"v":0.17},{"x":0.0917,"v":0.21},{"x":0.0917,"v":0.26},
{"x":0.0929,"v":0.02},{"x":0.0936,"v":0.05},{"x":0.094,"v":0.01},{"x":0.0948,"v":0.05},{"x":0.0955,"v":0.1},{"x":0.096,"v":0.06},{"x":0.0965,"v":0.1},{"x":0.097,"v":0.03},{"x":0.0978,"v":0.06},{"x":0.0985,"v":0.08},{"x":0.0993,"v":0.02},{"x":0.1,"v":0.01}],
"p4m": [{"x":0.01,"v":0.228},{"x":0.0095,"v":0.235},{"x":0.0087,"v":0.229},{"x":0.0079,"v":0.213},{"x":0.0071,"v":0.192},{"x":0.0065,"v":0.177},{"x":0.0059,"v":0.169},{"x":0.0042,"v":0.164},{"x":0.0029,"v":0.154},{"x":0.0022,"v":0.142},{"x":0.0009,"v":0.122},{"x":0,"v":0.112},{"x":-0.0022,"v":0.104},{"x":-0.0034,"v":0.097},{"x":-0.0047,"v":0.082},{"x":-0.0061,"v":0.074},{"x":-0.0076,"v":0.086},{"x":-0.0083,"v":0.104},{"x":-0.0092,"v":0.142},{"x":-0.0096,"v":0.172},{"x":-0.01,"v":0.205}],
"p4f": [{"x":0.01,"v":0.097},{"x":0.0097,"v":0.085},{"x":0.00936,"v":0.071},{"x":0.0091,"v":0.058},{"x":0.00883,"v":0.044},{"x":0.0086,"v":0.05},{"x":0.00838,"v":0.059},{"x":0.0082,"v":0.078},{"x":0.00806,"v":0.094},{"x":0.00785,"v":0.103},{"x":0.00766,"v":0.109},{"x":0.0075,"v":0.106},{"x":0.00732,"v":0.1},{"x":0.0072,"v":0.092},{"x":0.00706,"v":0.082},{"x":0.0069,"v":0.072},{"x":0.00673,"v":0.062},{"x":0.0066,"v":0.052},{"x":0.00647,"v":0.044},{"x":0.0062,"v":0.04},{"x":0.00594,"v":0.039},{"x":0.0057,"v":0.039},{"x":0.00547,"v":0.039},{"x":0.0052,"v":0.048},{"x":0.00503,"v":0.056},{"x":0.00485,"v":0.07},{"x":0.00468,"v":0.086},{"x":0.00445,"v":0.098},{"x":0.00423,"v":0.109},{"x":0.0039,"v":0.095},{"x":0.00363,"v":0.077},{"x":0.0033,"v":0.085},{"x":0.00305,"v":0.092},{"x":0.00285,"v":0.108},{"x":0.00272,"v":0.119},{"x":0.00255,"v":0.117},{"x":0.00238,"v":0.115},{"x":0.00215,"v":0.1},{"x":0.00193,"v":0.085},{"x":0.00173,"v":0.072},{"x":0.00153,"v":0.059},{"x":0.00134,"v":0.049},{"x":0.00114,"v":0.039},{"x":0.00094,"v":0.028},{"x":0.00074,"v":0.017},{"x":0.00045,"v":0.013},{"x":0.00014,"v":0.011},{"x":-0.0001,"v":0.014},{"x":-0.00038,"v":0.017},{"x":-0.00058,"v":0.017},{"x":-0.00077,"v":0.017},{"x":-0.00097,"v":0.03},{"x":-0.00117,"v":0.044},{"x":-0.00137,"v":0.053},{"x":-0.00157,"v":0.062},{"x":-0.00172,"v":0.072},{"x":-0.00189,"v":0.082},{"x":-0.00205,"v":0.097},{"x":-0.00222,"v":0.112},{"x":-0.00242,"v":0.126},{"x":-0.00262,"v":0.139},{"x":-0.00282,"v":0.126},{"x":-0.00301,"v":0.112},{"x":-0.00315,"v":0.1},{"x":-0.00329,"v":0.089},{"x":-0.00342,"v":0.077},{"x":-0.00355,"v":0.066},{"x":-0.00368,"v":0.039},{"x":-0.00385,"v":0.03},{"x":-0.00401,"v":0.021},{"x":-0.0042,"v":0.012},{"x":-0.00441,"v":0.006},{"x":-0.0047,"v":0.004},{"x":-0.00499,"v":0.003},{"x":-0.0053,"v":0.003},{"x":-0.0056,"v":0.003},{"x":-0.0059,"v":0.003},{"x":-0.0062,"v":0.003},{"x":-0.0065,"v":0.003},{"x":-0.0068,"v":0.003},{"x":-0.0071,"v":0.003},{"x":-0.00744,"v":0.003},{"x":-0.0078,"v":0.004},{"x":-0.00816,"v":0.006},{"x":-0.0084,"v":0.011},{"x":-0.00868,"v":0.017},{"x":-0.0089,"v":0.021},{"x":-0.00907,"v":0.024},{"x":-0.0093,"v":0.027},{"x":-0.00947,"v":0.029},{"x":-0.0097,"v":0.029},{"x":-0.00986,"v":0.029},{"x":-0.01,"v":0.029}]
},
"hconcat": [
{
 "width": 265, "height": 1162,
 "resolve": {"axis": {"x": "independent", "y": "independent"}},
 "layer": [
  {"data": {"name": "p1m"}, "mark": {"type": "line", "color": "#0000ff", "strokeWidth": 3.5},
   "encoding": {
    "x": {"field": "v", "type": "quantitative", "scale": {"domain": [0, 1], "reverse": true, "nice": false, "zero": false},
          "axis": {"orient": "bottom", "values": [0, 0.5, 1], "format": "~g", "labelAngle": 270, "labelAlign": "right", "labelBaseline": "middle", "title": null}},
    "y": {"field": "x", "type": "quantitative", "scale": {"domain": [-2.5, 2.5], "nice": false, "zero": false},
          "axis": {"orient": "right", "values": [-2.5,-2,-1.5,-1,-0.5,0,0.5,1,1.5,2,2.5], "format": "~g", "labelAngle": 270, "labelAlign": "center", "labelBaseline": "top", "title": null}},
    "order": {"value": null}}},
  {"data": {"name": "p1f"}, "mark": {"type": "line", "color": "#008000", "strokeWidth": 3.5, "strokeDash": [14, 8]},
   "encoding": {
    "x": {"field": "v", "type": "quantitative", "scale": {"domain": [0, 1], "reverse": true, "nice": false, "zero": false},
          "axis": {"orient": "top", "values": [0, 0.5, 1], "labels": false, "title": null}},
    "y": {"field": "x", "type": "quantitative", "scale": {"domain": [-2.5, 2.5], "nice": false, "zero": false},
          "axis": {"orient": "left", "values": [-2.5,-2,-1.5,-1,-0.5,0,0.5,1,1.5,2,2.5], "labels": false, "title": null}},
    "order": {"value": null}}},
  {"data": {"name": "p1f"}, "mark": {"type": "circle", "color": "#008000", "size": 90, "opacity": 1},
   "encoding": {
    "x": {"field": "v", "type": "quantitative", "scale": {"domain": [0, 1], "reverse": true, "nice": false, "zero": false}, "axis": null},
    "y": {"field": "x", "type": "quantitative", "scale": {"domain": [-2.5, 2.5], "nice": false, "zero": false}, "axis": null}}},
  {"data": {"values": [{}]}, "mark": {"type": "text", "text": "500 cm", "font": "Liberation Serif", "fontWeight": "bold", "fontSize": 56, "color": "#ff0000", "angle": 270, "align": "center", "baseline": "middle"},
   "encoding": {"x": {"datum": 0.713, "type": "quantitative", "axis": null}, "y": {"datum": -1.885, "type": "quantitative", "axis": null}}},
  {"data": {"values": [{}]}, "mark": {"type": "rect", "fill": "#ffffff", "stroke": "#000000", "strokeWidth": 1.5},
   "encoding": {"x": {"datum": 0.94, "type": "quantitative", "axis": null}, "x2": {"datum": 0.43}, "y": {"datum": 2.44, "type": "quantitative", "axis": null}, "y2": {"datum": 0.74}}},
  {"data": {"values": [{}]}, "mark": {"type": "rule", "color": "#0000ff", "strokeWidth": 4},
   "encoding": {"x": {"datum": 0.83, "type": "quantitative", "axis": null}, "y": {"datum": 1.218, "type": "quantitative", "axis": null}, "y2": {"datum": 0.818}}},
  {"data": {"values": [{}]}, "mark": {"type": "rule", "color": "#008000", "strokeWidth": 4, "strokeDash": [20, 50]},
   "encoding": {"x": {"datum": 0.596, "type": "quantitative", "axis": null}, "y": {"datum": 1.218, "type": "quantitative", "axis": null}, "y2": {"datum": 0.818}}},
  {"data": {"values": [{}]}, "mark": {"type": "circle", "color": "#008000", "size": 90, "opacity": 1},
   "encoding": {"x": {"datum": 0.596, "type": "quantitative", "axis": null}, "y": {"datum": 1.003, "type": "quantitative", "axis": null}}},
  {"data": {"values": [{}]}, "mark": {"type": "text", "text": "mixture fraction", "font": "Liberation Sans", "fontSize": 36, "color": "#000000", "angle": 270, "align": "left", "baseline": "alphabetic"},
   "encoding": {"x": {"datum": 0.774, "type": "quantitative", "axis": null}, "y": {"datum": 1.269, "type": "quantitative", "axis": null}}},
  {"data": {"values": [{}]}, "mark": {"type": "text", "text": "f", "font": "Liberation Sans", "fontSize": 36, "color": "#000000", "angle": 270, "align": "left", "baseline": "alphabetic"},
   "encoding": {"x": {"datum": 0.611, "type": "quantitative", "axis": null}, "y": {"datum": 1.26, "type": "quantitative", "axis": null}}},
  {"data": {"values": [{}]}, "mark": {"type": "text", "text": "v", "font": "Liberation Sans", "fontSize": 26, "color": "#000000", "angle": 270, "align": "left", "baseline": "alphabetic"},
   "encoding": {"x": {"datum": 0.562, "type": "quantitative", "axis": null}, "y": {"datum": 1.305, "type": "quantitative", "axis": null}}},
  {"data": {"values": [{}]}, "mark": {"type": "text", "text": "* 10", "font": "Liberation Sans", "fontSize": 36, "color": "#000000", "angle": 270, "align": "left", "baseline": "alphabetic"},
   "encoding": {"x": {"datum": 0.611, "type": "quantitative", "axis": null}, "y": {"datum": 1.36, "type": "quantitative", "axis": null}}},
  {"data": {"values": [{}]}, "mark": {"type": "text", "text": "5", "font": "Liberation Sans", "fontSize": 26, "color": "#000000", "angle": 270, "align": "left", "baseline": "alphabetic"},
   "encoding": {"x": {"datum": 0.668, "type": "quantitative", "axis": null}, "y": {"datum": 1.64, "type": "quantitative", "axis": null}}}
 ]
},
{
 "width": 265, "height": 1162,
 "resolve": {"axis": {"x": "independent", "y": "independent"}},
 "layer": [
  {"data": {"name": "p2m"}, "mark": {"type": "line", "color": "#0000ff", "strokeWidth": 3.5},
   "encoding": {
    "x": {"field": "v", "type": "quantitative", "scale": {"domain": [0, 1], "reverse": true, "nice": false, "zero": false},
          "axis": {"orient": "bottom", "values": [0, 0.5, 1], "format": "~g", "labelAngle": 270, "labelAlign": "right", "labelBaseline": "middle", "title": null}},
    "y": {"field": "x", "type": "quantitative", "scale": {"domain": [-0.5, 0.5], "nice": false, "zero": false},
          "axis": {"orient": "right", "values": [-0.5,-0.4,-0.3,-0.2,-0.1,0,0.1,0.2,0.3,0.4,0.5], "format": "~g", "labelAngle": 270, "labelAlign": "center", "labelBaseline": "top", "title": null}},
    "order": {"value": null}}},
  {"data": {"name": "p2f"}, "mark": {"type": "line", "color": "#008000", "strokeWidth": 3.5, "strokeDash": [14, 8]},
   "encoding": {
    "x": {"field": "v", "type": "quantitative", "scale": {"domain": [0, 1], "reverse": true, "nice": false, "zero": false},
          "axis": {"orient": "top", "values": [0, 0.5, 1], "labels": false, "title": null}},
    "y": {"field": "x", "type": "quantitative", "scale": {"domain": [-0.5, 0.5], "nice": false, "zero": false},
          "axis": {"orient": "left", "values": [-0.5,-0.4,-0.3,-0.2,-0.1,0,0.1,0.2,0.3,0.4,0.5], "labels": false, "title": null}},
    "order": {"value": null}}},
  {"data": {"name": "p2f"}, "mark": {"type": "circle", "color": "#008000", "size": 90, "opacity": 1},
   "encoding": {
    "x": {"field": "v", "type": "quantitative", "scale": {"domain": [0, 1], "reverse": true, "nice": false, "zero": false}, "axis": null},
    "y": {"field": "x", "type": "quantitative", "scale": {"domain": [-0.5, 0.5], "nice": false, "zero": false}, "axis": null}}},
  {"data": {"values": [{}]}, "mark": {"type": "text", "text": "100 cm", "font": "Liberation Serif", "fontWeight": "bold", "fontSize": 56, "color": "#ff0000", "angle": 270, "align": "center", "baseline": "middle"},
   "encoding": {"x": {"datum": 0.77, "type": "quantitative", "axis": null}, "y": {"datum": -0.377, "type": "quantitative", "axis": null}}}
 ]
},
{
 "width": 265, "height": 1162,
 "resolve": {"axis": {"x": "independent", "y": "independent"}},
 "layer": [
  {"data": {"name": "p3m"}, "mark": {"type": "line", "color": "#0000ff", "strokeWidth": 3.5, "interpolate": "catmull-rom"},
   "encoding": {
    "x": {"field": "v", "type": "quantitative", "scale": {"domain": [0, 1], "reverse": true, "nice": false, "zero": false},
          "axis": {"orient": "bottom", "values": [0, 0.5, 1], "format": "~g", "labelAngle": 270, "labelAlign": "right", "labelBaseline": "middle", "title": null}},
    "y": {"field": "x", "type": "quantitative", "scale": {"domain": [-0.1, 0.1], "nice": false, "zero": false},
          "axis": {"orient": "right", "values": [-0.1,-0.08,-0.06,-0.04,-0.02,0,0.02,0.04,0.06,0.08,0.1], "format": "~g", "labelAngle": 270, "labelAlign": "center", "labelBaseline": "top", "title": null}},
    "order": {"value": null}}},
  {"data": {"name": "p3f"}, "mark": {"type": "line", "color": "#008000", "strokeWidth": 3.5, "strokeDash": [14, 8]},
   "encoding": {
    "x": {"field": "v", "type": "quantitative", "scale": {"domain": [0, 1], "reverse": true, "nice": false, "zero": false},
          "axis": {"orient": "top", "values": [0, 0.5, 1], "labels": false, "title": null}},
    "y": {"field": "x", "type": "quantitative", "scale": {"domain": [-0.1, 0.1], "nice": false, "zero": false},
          "axis": {"orient": "left", "values": [-0.1,-0.08,-0.06,-0.04,-0.02,0,0.02,0.04,0.06,0.08,0.1], "labels": false, "title": null}},
    "order": {"value": null}}},
  {"data": {"name": "p3f"}, "mark": {"type": "circle", "color": "#008000", "size": 90, "opacity": 1},
   "encoding": {
    "x": {"field": "v", "type": "quantitative", "scale": {"domain": [0, 1], "reverse": true, "nice": false, "zero": false}, "axis": null},
    "y": {"field": "x", "type": "quantitative", "scale": {"domain": [-0.1, 0.1], "nice": false, "zero": false}, "axis": null}}},
  {"data": {"values": [{}]}, "mark": {"type": "text", "text": "20 cm", "font": "Liberation Serif", "fontWeight": "bold", "fontSize": 56, "color": "#ff0000", "angle": 270, "align": "center", "baseline": "middle"},
   "encoding": {"x": {"datum": 0.709, "type": "quantitative", "axis": null}, "y": {"datum": 0.0616, "type": "quantitative", "axis": null}}}
 ]
},
{
 "width": 265, "height": 1162,
 "resolve": {"axis": {"x": "independent", "y": "independent"}},
 "layer": [
  {"data": {"name": "p4m"}, "mark": {"type": "line", "color": "#0000ff", "strokeWidth": 3.5, "interpolate": "catmull-rom"},
   "encoding": {
    "x": {"field": "v", "type": "quantitative", "scale": {"domain": [0, 0.4], "reverse": true, "nice": false, "zero": false},
          "axis": {"orient": "bottom", "values": [0, 0.2, 0.4], "format": "~g", "labelAngle": 270, "labelAlign": "right", "labelBaseline": "middle", "title": null}},
    "y": {"field": "x", "type": "quantitative", "scale": {"domain": [-0.01, 0.01], "nice": false, "zero": false},
          "axis": {"orient": "right", "values": [-0.01,-0.008,-0.006,-0.004,-0.002,0,0.002,0.004,0.006,0.008,0.01], "format": "~g", "labelAngle": 270, "labelAlign": "center", "labelBaseline": "top", "title": "x (m)", "titleAngle": 270, "titleAlign": "center", "titleBaseline": "top", "titlePadding": 74}},
    "order": {"value": null}}},
  {"data": {"name": "p4f"}, "mark": {"type": "line", "color": "#008000", "strokeWidth": 3.5, "strokeDash": [14, 8]},
   "encoding": {
    "x": {"field": "v", "type": "quantitative", "scale": {"domain": [0, 0.4], "reverse": true, "nice": false, "zero": false},
          "axis": {"orient": "top", "values": [0, 0.2, 0.4], "labels": false, "title": null}},
    "y": {"field": "x", "type": "quantitative", "scale": {"domain": [-0.01, 0.01], "nice": false, "zero": false},
          "axis": {"orient": "left", "values": [-0.01,-0.008,-0.006,-0.004,-0.002,0,0.002,0.004,0.006,0.008,0.01], "labels": false, "title": null}},
    "order": {"value": null}}},
  {"data": {"name": "p4f"}, "mark": {"type": "circle", "color": "#008000", "size": 90, "opacity": 1},
   "encoding": {
    "x": {"field": "v", "type": "quantitative", "scale": {"domain": [0, 0.4], "reverse": true, "nice": false, "zero": false}, "axis": null},
    "y": {"field": "x", "type": "quantitative", "scale": {"domain": [-0.01, 0.01], "nice": false, "zero": false}, "axis": null}}},
  {"data": {"values": [{}]}, "mark": {"type": "text", "text": "2 cm", "font": "Liberation Serif", "fontWeight": "bold", "fontSize": 56, "color": "#ff0000", "angle": 270, "align": "center", "baseline": "middle"},
   "encoding": {"x": {"datum": 0.308, "type": "quantitative", "axis": null}, "y": {"datum": -0.00806, "type": "quantitative", "axis": null}}}
 ]
}
]
}
